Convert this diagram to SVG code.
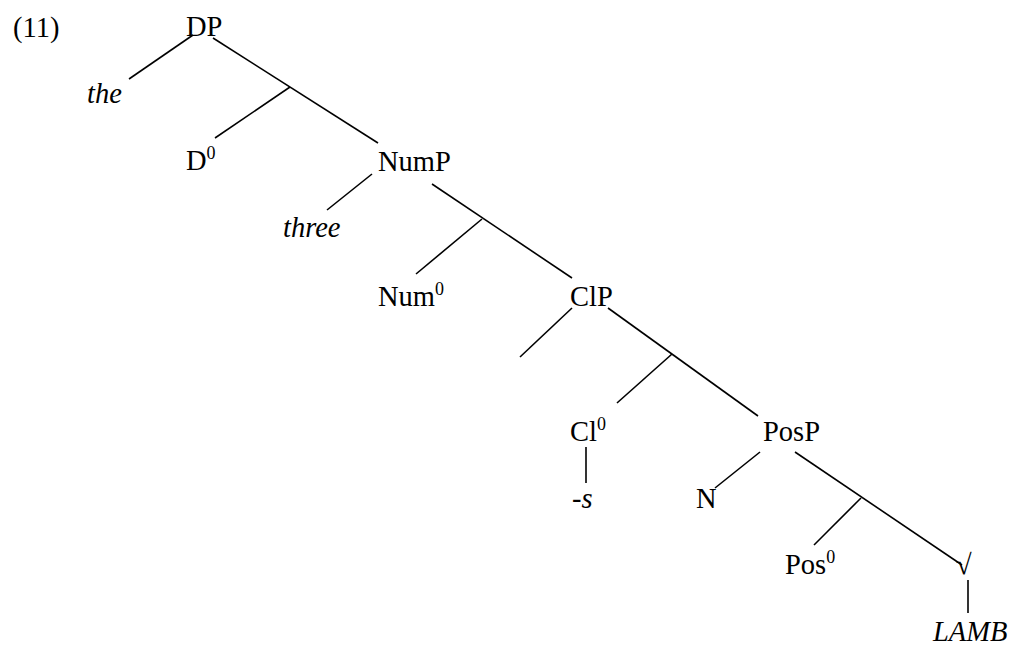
<svg xmlns="http://www.w3.org/2000/svg" width="1010" height="645" viewBox="0 0 1010 645">
<style>
text{font-family:"Liberation Serif","Times New Roman",serif;font-size:28.5px;fill:#000}
.i{font-style:italic}
.sup{font-size:18px}
#edges line{stroke:#000;stroke-width:1.6}
</style>
<rect width="1010" height="645" fill="#fff"/>
<text id="label" x="13" y="37">(11)</text>
<g id="edges">
<line x1="193" y1="35" x2="129" y2="79"/>
<line x1="213" y1="38" x2="378" y2="143"/>
<line x1="290" y1="87" x2="215" y2="138"/>
<line x1="372" y1="174" x2="327" y2="210"/>
<line x1="432" y1="184" x2="572" y2="278"/>
<line x1="482" y1="219" x2="416" y2="274"/>
<line x1="572" y1="308" x2="520" y2="357"/>
<line x1="608" y1="308" x2="758" y2="416"/>
<line x1="672" y1="354" x2="617" y2="403"/>
<line x1="586" y1="447" x2="586" y2="483"/>
<line x1="760" y1="452" x2="715" y2="488"/>
<line x1="795" y1="452" x2="962" y2="565"/>
<line x1="861" y1="498" x2="814" y2="545"/>
<line x1="968" y1="580" x2="968" y2="613"/>
</g>
<g id="DP"><text x="186" y="36">DP</text></g>
<g id="the"><text class="i" x="87" y="103">the</text></g>
<g id="D0"><text x="186" y="170">D<tspan class="sup" dy="-11">0</tspan></text></g>
<g id="NumP"><text x="378" y="171">NumP</text></g>
<g id="three"><text class="i" x="283" y="237">three</text></g>
<g id="Num0"><text x="378" y="306">Num<tspan class="sup" dy="-11">0</tspan></text></g>
<g id="ClP"><text x="570" y="306">ClP</text></g>
<g id="Cl0"><text x="570" y="441">Cl<tspan class="sup" dy="-11">0</tspan></text></g>
<g id="s"><text x="572" y="508">-<tspan class="i">s</tspan></text></g>
<g id="PosP"><text x="763" y="441">PosP</text></g>
<g id="N"><text x="696" y="508">N</text></g>
<g id="Pos0"><text x="785" y="574">Pos<tspan class="sup" dy="-11">0</tspan></text></g>
<g id="root"><text x="956" y="574">√</text></g>
<g id="LAMB"><text class="i" x="933" y="641">LAMB</text></g>
</svg>
